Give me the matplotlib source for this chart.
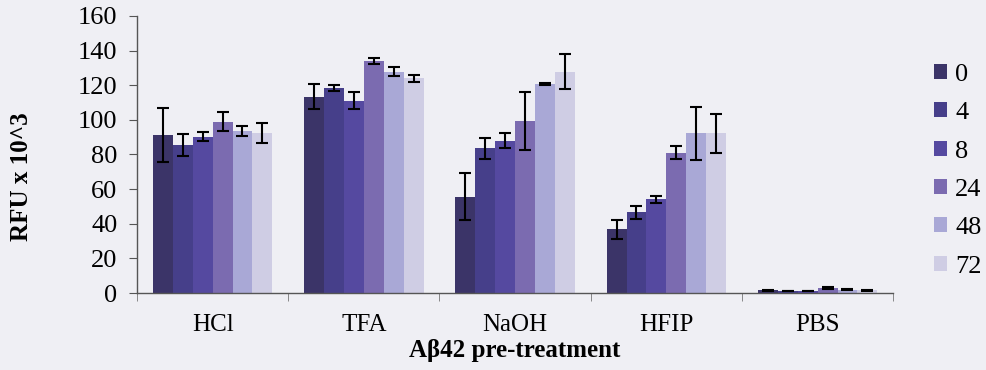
import numpy as np
import matplotlib
matplotlib.use("Agg")
import matplotlib.pyplot as plt

plt.rcParams["font.family"] = ["Liberation Serif", "DejaVu Serif"]

categories = ["HCl", "TFA", "NaOH", "HFIP", "PBS"]
timepoints = ["0", "4", "8", "24", "48", "72"]

# mean RFU x 10^3 per timepoint, one list per pre-treatment order above
rfu_0 = [91.3, 113.4, 55.6, 36.8, 1.5]
rfu_4 = [85.5, 118.6, 83.6, 46.6, 1.2]
rfu_8 = [90.3, 111.1, 88.0, 54.1, 1.2]
rfu_24 = [99.0, 134.0, 99.3, 81.0, 3.0]
rfu_48 = [93.6, 127.8, 120.7, 92.2, 1.8]
rfu_72 = [92.2, 124.0, 127.8, 92.2, 1.5]

err_0 = [15.7, 7.2, 13.7, 5.5, 0.3]
err_4 = [6.5, 1.7, 6.0, 3.9, 0.2]
err_8 = [2.5, 4.9, 4.5, 2.0, 0.2]
err_24 = [5.5, 1.5, 16.5, 3.8, 0.4]
err_48 = [3.0, 2.7, 0.5, 15.4, 0.3]
err_72 = [5.7, 2.1, 10.2, 11.2, 0.3]

series = [rfu_0, rfu_4, rfu_8, rfu_24, rfu_48, rfu_72]
errors = [err_0, err_4, err_8, err_24, err_48, err_72]
colors = ["#3b3468", "#463f8a", "#5549a0", "#7b6bb0", "#a9a8d6", "#cfcde4"]

bg = "#efeff4"
fig = plt.figure(figsize=(9.87, 3.70), dpi=100, facecolor=bg)
ax = fig.add_axes([0.1388, 0.208, 0.7662, 0.749], facecolor=bg)

x = np.arange(len(categories))
width = 0.79 / len(series)
for i, (vals, errs) in enumerate(zip(series, errors)):
    pos = x + (i - 2.5) * width
    ax.bar(pos, vals, width=width, color=colors[i], label=timepoints[i], zorder=2)
    ax.errorbar(pos, vals, yerr=errs, fmt="none", ecolor="black",
                elinewidth=1.5, capsize=4, capthick=1.5, zorder=3)

ax.set_xlim(-0.5, len(categories) - 0.5)
ax.set_ylim(0, 160)
ax.set_yticks(np.arange(0, 161, 20))
ax.tick_params(axis="y", labelsize=19, length=6, direction="out", pad=8,
               color="#555555")
ax.set_xticks(x)
ax.set_xticklabels(categories)
ax.tick_params(axis="x", which="major", length=0, labelsize=18, pad=15)
ax.set_xticks(np.arange(-0.5, len(categories), 1), minor=True)
ax.tick_params(axis="x", which="minor", length=6, direction="out",
               color="#777777")

for side in ["top", "right"]:
    ax.spines[side].set_visible(False)
for side in ["left", "bottom"]:
    ax.spines[side].set_color("#555555")
    ax.spines[side].set_linewidth(1.0)

ax.set_ylabel("RFU x 10^3", fontsize=18, fontweight="bold")
ax.yaxis.set_label_coords(-0.138, 0.42)
ax.set_xlabel("A\u03b242 pre-treatment", fontsize=18, fontweight="bold",
              labelpad=2)

ax.legend(loc="upper left", bbox_to_anchor=(1.04, 0.865), frameon=False,
          fontsize=19, handlelength=0.5, handleheight=0.5, handletextpad=0.3,
          labelspacing=0.62, borderaxespad=0)

fig.savefig("out.png", dpi=100, facecolor=bg)
